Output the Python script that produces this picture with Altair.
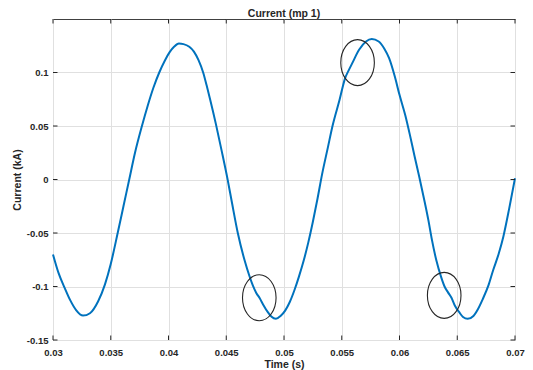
import altair as alt
import pandas as pd

# ---- data ----
time_s = [
    0.0300, 0.0305, 0.0310, 0.0315, 0.0320, 0.0326, 0.0332, 0.0339, 0.0345, 0.0350,
    0.0356, 0.0361, 0.0366, 0.0371, 0.0377, 0.0382, 0.0387, 0.0392, 0.0397, 0.0401,
    0.0405, 0.0409, 0.0413, 0.0418, 0.0422, 0.0426, 0.0430, 0.0433, 0.0436, 0.0441,
    0.0446, 0.0451, 0.0455, 0.0460, 0.0466, 0.0470, 0.0473, 0.0476, 0.0479, 0.0482,
    0.0486, 0.0489, 0.0493, 0.0497, 0.0501, 0.0505, 0.0509, 0.0513, 0.0517, 0.0521,
    0.0525, 0.0529, 0.0533, 0.0538, 0.0542, 0.0548, 0.0553, 0.0556, 0.0559, 0.0565,
    0.0571, 0.0576, 0.0582, 0.0587, 0.0591, 0.0596, 0.0600, 0.0605, 0.0609, 0.0613,
    0.0617, 0.0622, 0.0625, 0.0628, 0.0632, 0.0636, 0.0639, 0.0642, 0.0645, 0.0648,
    0.0652, 0.0655, 0.0659, 0.0664, 0.0668, 0.0672, 0.0677, 0.0681, 0.0686, 0.0690,
    0.0695, 0.0700,
]
current_ka = [
    -0.0700, -0.0880, -0.1010, -0.1130, -0.1220, -0.1272, -0.1250, -0.1140, -0.0980, -0.0790,
    -0.0500, -0.0250, 0.0000, 0.0250, 0.0500, 0.0690, 0.0860, 0.1000, 0.1115, 0.1190,
    0.1243, 0.1270, 0.1265, 0.1240, 0.1195, 0.1115, 0.1000, 0.0880, 0.0750, 0.0520,
    0.0270, 0.0010, -0.0220, -0.0500, -0.0760, -0.0900, -0.0990, -0.1060, -0.1110, -0.1170,
    -0.1240, -0.1280, -0.1302, -0.1275, -0.1225, -0.1145, -0.1035, -0.0905, -0.0760, -0.0590,
    -0.0395, -0.0180, 0.0050, 0.0300, 0.0500, 0.0740, 0.0950, 0.1020, 0.1085, 0.1212,
    0.1290, 0.1312, 0.1290, 0.1220, 0.1134, 0.0960, 0.0791, 0.0600, 0.0417, 0.0220,
    0.0030, -0.0220, -0.0380, -0.0560, -0.0760, -0.0910, -0.1000, -0.1055, -0.1105, -0.1180,
    -0.1245, -0.1285, -0.1302, -0.1275, -0.1210, -0.1120, -0.0990, -0.0850, -0.0690, -0.0530,
    -0.0270, 0.0012,
]
circle_time = [0.04786, 0.05637, 0.06387]
circle_current = [-0.1105, 0.1092, -0.1083]

x_ticks = [0.03, 0.035, 0.04, 0.045, 0.05, 0.055, 0.06, 0.065, 0.07]
y_ticks = [-0.15, -0.1, -0.05, 0, 0.05, 0.1]

# ---- styling ----
W, H = 462, 321
FONT = "Liberation Sans"
TXT = "#262626"
GRID = "#e0e0e0"
TICK_LEN = 4.5

df = pd.DataFrame({"t": time_s, "i": current_ka})
circles = pd.DataFrame({"t": circle_time, "i": circle_current})
xt = pd.DataFrame({"t": x_ticks})
yt = pd.DataFrame({"i": y_ticks})

x_scale = alt.Scale(domain=[0.03, 0.07], nice=False, zero=False)
y_scale = alt.Scale(domain=[-0.15, 0.15], nice=False, zero=False)

x_axis = alt.Axis(
    title="Time (s)", values=x_ticks, labelExpr="'' + datum.value",
    grid=True, gridColor=GRID, gridWidth=1, ticks=False, domain=False,
    labelFlush=False, labelPadding=7, labelFont=FONT, labelFontSize=9.5,
    labelFontWeight="bold", labelColor=TXT,
    titleFont=FONT, titleFontSize=10.5, titleFontWeight="bold", titleColor=TXT,
    titleY=24, titleBaseline="middle",
)
y_axis = alt.Axis(
    title="Current (kA)", values=y_ticks, labelExpr="'' + datum.value",
    grid=True, gridColor=GRID, gridWidth=1, ticks=False, domain=False,
    labelPadding=5, labelFont=FONT, labelFontSize=9.5,
    labelFontWeight="bold", labelColor=TXT,
    titleFont=FONT, titleFontSize=10.5, titleFontWeight="bold", titleColor=TXT,
    titleX=-36, titleBaseline="middle",
)

X = lambda: alt.X("t:Q", scale=x_scale, axis=x_axis)
Y = lambda: alt.Y("i:Q", scale=y_scale, axis=y_axis)

line = alt.Chart(df).mark_line(color="#0072BD", strokeWidth=2, interpolate="monotone").encode(
    x=X(), y=Y(),
)

ellipse_path = "M-0.73,0A0.73,1,0,1,1,0.73,0A0.73,1,0,1,1,-0.73,0Z"
rings = alt.Chart(circles).mark_point(
    shape=ellipse_path, size=2116, filled=False, stroke="#262626", strokeWidth=1.1, opacity=1
).encode(x=X(), y=Y())

tick_b = alt.Chart(xt).mark_rule(color=TXT, strokeWidth=1).encode(
    x=X(), y=alt.value(H), y2=alt.value(H - TICK_LEN))
tick_t = alt.Chart(xt).mark_rule(color=TXT, strokeWidth=1).encode(
    x=X(), y=alt.value(0), y2=alt.value(TICK_LEN))
tick_l = alt.Chart(yt).mark_rule(color=TXT, strokeWidth=1).encode(
    y=Y(), x=alt.value(0), x2=alt.value(TICK_LEN))
tick_r = alt.Chart(yt).mark_rule(color=TXT, strokeWidth=1).encode(
    y=Y(), x=alt.value(W), x2=alt.value(W - TICK_LEN))

chart = alt.layer(line, tick_b, tick_t, tick_l, tick_r, rings).properties(
    width=W, height=H,
    title=alt.TitleParams("Current (mp 1)", font=FONT, fontSize=10.5, fontWeight="bold",
                          color=TXT, offset=-1, anchor="middle"),
    autosize=alt.AutoSizeParams(type="none"),
    padding={"left": 45, "top": 11, "right": 10, "bottom": 30},
).configure_view(stroke="#404040", strokeWidth=1)

chart.save("out.html", embed_options={"renderer": "svg", "actions": False})
